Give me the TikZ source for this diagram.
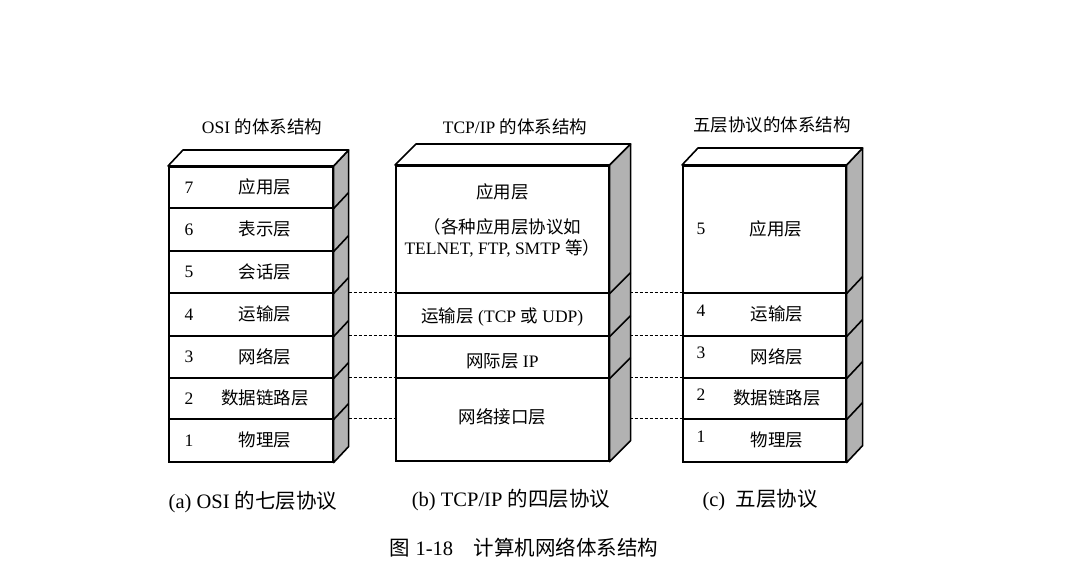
\documentclass[tikz,border=0pt]{standalone}
\usepackage{fontspec}
\setmainfont{Liberation Serif}
\newfontfamily\cjk{Noto Sans CJK SC}
\newcommand{\zh}[1]{{\cjk #1}}
\usetikzlibrary{calc}

\begin{document}
\begin{tikzpicture}[
    x=1pt, y=-1pt,
    layer/.style={rectangle, draw, line width=1.6pt, fill=white, anchor=north west, inner sep=0pt},
    side/.style={draw, line width=1.6pt, fill=gray!60, line join=round},
    topface/.style={draw, line width=1.6pt, fill=white, line join=round},
    lbl/.style={font=\fontsize{17.5}{21}\selectfont, align=center, inner sep=0pt},
    capline/.style={font=\fontsize{20.5}{24}\selectfont, inner sep=0pt},
    link/.style={line width=0.8pt, dash pattern=on 3pt off 2pt},
]
\useasboundingbox (0,0) rectangle (1071,569);

% OSI
\node[layer, minimum width=164pt, minimum height=41pt] (o7) at (168,166) {};
\node[layer, minimum width=164pt, minimum height=43pt] (o6) at (168,207) {};
\node[layer, minimum width=164pt, minimum height=42pt] (o5) at (168,250) {};
\node[layer, minimum width=164pt, minimum height=43pt] (o4) at (168,292) {};
\node[layer, minimum width=164pt, minimum height=42pt] (o3) at (168,335) {};
\node[layer, minimum width=164pt, minimum height=41pt] (o2) at (168,377) {};
\node[layer, minimum width=164pt, minimum height=43pt] (o1) at (168,418) {};

% TCP/IP
\node[layer, minimum width=213pt, minimum height=127pt] (t4) at (395,165) {};
\node[layer, minimum width=213pt, minimum height=43pt] (t3) at (395,292) {};
\node[layer, minimum width=213pt, minimum height=42pt] (t2) at (395,335) {};
\node[layer, minimum width=213pt, minimum height=83pt] (t1) at (395,377) {};

% five layers
\node[layer, minimum width=163pt, minimum height=127pt] (f5) at (682,165) {};
\node[layer, minimum width=163pt, minimum height=43pt] (f4) at (682,292) {};
\node[layer, minimum width=163pt, minimum height=42pt] (f3) at (682,335) {};
\node[layer, minimum width=163pt, minimum height=41pt] (f2) at (682,377) {};
\node[layer, minimum width=163pt, minimum height=43pt] (f1) at (682,418) {};

% dashed links
\draw[link] (o4.north east) -- (t3.north west);
\draw[link] (o3.north east) -- (t2.north west);
\draw[link] (o2.north east) -- (t1.north west);
\draw[link] (o1.north east) -- (t1.west |- o1.north east);
\draw[link] (t3.north east) -- (f4.north west);
\draw[link] (t2.north east) -- (f3.north west);
\draw[link] (t1.north east) -- (f2.north west);
\draw[link] (t1.east |- f1.north west) -- (f1.north west);

% side and top faces
\draw[side] (o7.north east) -- ++(15,-16) -- ([shift={(15,-16)}]o1.south east) -- (o1.south east) -- cycle;
\draw[topface] (o7.north west) -- ++(15,-16) -- ([shift={(15,-16)}]o7.north east) -- (o7.north east) -- cycle;
\foreach \n in {o7,o6,o5,o4,o3,o2}
    \draw[line width=1.6pt] (\n.south east) -- ++(15,-16);

\draw[side] (t4.north east) -- ++(21,-21) -- ([shift={(21,-21)}]t1.south east) -- (t1.south east) -- cycle;
\draw[topface] (t4.north west) -- ++(21,-21) -- ([shift={(21,-21)}]t4.north east) -- (t4.north east) -- cycle;
\foreach \n in {t4,t3,t2}
    \draw[line width=1.6pt] (\n.south east) -- ++(21,-21);

\draw[side] (f5.north east) -- ++(16,-17) -- ([shift={(16,-17)}]f1.south east) -- (f1.south east) -- cycle;
\draw[topface] (f5.north west) -- ++(16,-17) -- ([shift={(16,-17)}]f5.north east) -- (f5.north east) -- cycle;
\foreach \n in {f5,f4,f3,f2}
    \draw[line width=1.6pt] (\n.south east) -- ++(16,-17);

% labels
\foreach \n/\t in {7/应用层, 6/表示层, 5/会话层, 4/运输层, 3/网络层, 2/数据链路层, 1/物理层} {
    \node[lbl] (o\n num) at ([xshift=21pt]o\n.west) {\n};
    \node[lbl] (o\n txt) at ([xshift=97pt]o\n.west) {\zh{\t}};
}

\node[lbl] (t4txt) at ([yshift=37pt]t4.center) {\zh{应用层}};
\node[lbl] (t4sub) at ([yshift=-9pt]t4.center) {\zh{（各种应用层协议如}\\TELNET, FTP, SMTP \zh{等）}};
\node[lbl] (t3txt) at ([yshift=-3pt]t3.center) {\zh{运输层} (TCP \zh{或} UDP)};
\node[lbl] (t2txt) at ([yshift=-4pt]t2.center) {\zh{网际层} IP};
\node[lbl] (t1txt) at ([yshift=2pt]t1.center) {\zh{网络接口层}};

\node[lbl] (f5num) at ([xshift=19pt]f5.west) {5};
\node[lbl] (f5txt) at ([xshift=94pt]f5.west) {\zh{应用层}};
\foreach \n/\t in {4/运输层, 3/网络层, 2/数据链路层, 1/物理层} {
    \node[lbl] (f\n num) at ([xshift=19pt, yshift=4pt]f\n.west) {\n};
    \node[lbl] (f\n txt) at ([xshift=95pt]f\n.west) {\zh{\t}};
}

% titles
\node[lbl] (osititle) at (262,127) {OSI \zh{的体系结构}};
\node[lbl] (tcptitle) at (515,127) {TCP/IP \zh{的体系结构}};
\node[lbl] (fivetitle) at (772,125) {\zh{五层协议的体系结构}};

% captions
\node[capline] (capa) at (253,502) {(a) OSI \zh{的七层协议}};
\node[capline] (capb) at (511,500) {(b) TCP/IP \zh{的四层协议}};
\node[capline] (capc) at (760,500) {(c)\ \ \zh{五层协议}};
\node[capline] (figcap) at (524,548) {\zh{图} 1-18\quad \zh{计算机网络体系结构}};
\end{tikzpicture}
\end{document}
